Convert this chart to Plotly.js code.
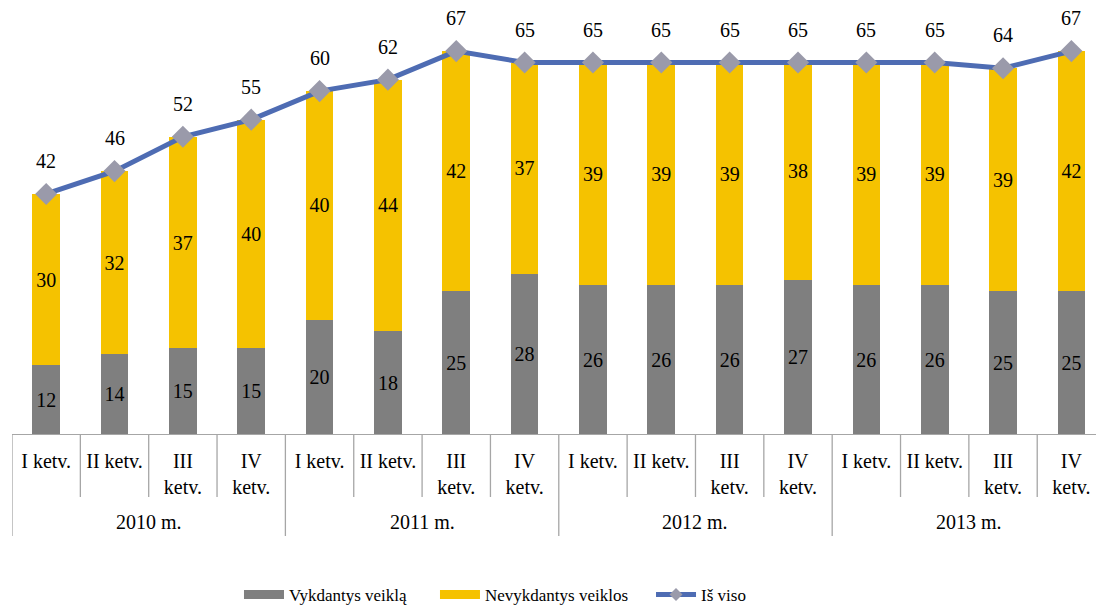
<!DOCTYPE html>
<html>
<head>
<meta charset="utf-8">
<script src="https://cdn.plot.ly/plotly-3.0.1.min.js"></script>
<style>html,body{margin:0;padding:0;background:#fff;}#chart{width:1096px;height:606px;}</style>
</head>
<body>
<div id="chart"></div>
<script>
const years = ["2010 m.", "2011 m.", "2012 m.", "2013 m."];
const quarters = ["I ketv.", "II ketv.", "III<br>ketv.", "IV<br>ketv."];
const active = [12, 14, 15, 15, 20, 18, 25, 28, 26, 26, 26, 27, 26, 26, 25, 25];
const inactive = [30, 32, 37, 40, 40, 44, 42, 37, 39, 39, 39, 38, 39, 39, 39, 42];
const total = [42, 46, 52, 55, 60, 62, 67, 65, 65, 65, 65, 65, 65, 65, 64, 67];
const seriesNames = ["Vykdantys veiklą", "Nevykdantys veiklos", "Iš viso"];

const FONT = "'Liberation Serif', 'Times New Roman', serif";
const GREY = '#7f7f7f', YELLOW = '#f5c200', BLUE = '#4e6cb3';
const idx = active.map((_, i) => i);
const tickText = [];
years.forEach(() => quarters.forEach(q => tickText.push(q)));

const traces = [
  {
    type: 'bar', x: idx, y: active, name: seriesNames[0], showlegend: false,
    marker: {color: GREY}, width: 0.405,
    text: active.map(String), textposition: 'inside', insidetextanchor: 'middle',
    constraintext: 'none', textfont: {family: FONT, size: 20, color: '#000'},
    hoverinfo: 'skip'
  },
  {
    type: 'bar', x: idx, y: inactive, name: seriesNames[1], showlegend: false,
    marker: {color: YELLOW}, width: 0.405,
    text: inactive.map(String), textposition: 'inside', insidetextanchor: 'middle',
    constraintext: 'none', textfont: {family: FONT, size: 20, color: '#000'},
    hoverinfo: 'skip'
  },
  {
    type: 'scatter', mode: 'lines+markers', x: idx, y: total, name: seriesNames[2], showlegend: false,
    line: {color: BLUE, width: 5},
    marker: {symbol: 'diamond', size: 17, color: '#9a9aaa'},
    hoverinfo: 'skip', cliponaxis: false
  },
  // legend entries
  {type: 'scatter', mode: 'lines', x: [null], y: [null], name: seriesNames[0], legend: 'legend',
   line: {color: GREY, width: 9}, hoverinfo: 'skip'},
  {type: 'scatter', mode: 'lines', x: [null], y: [null], name: seriesNames[1], legend: 'legend2',
   line: {color: YELLOW, width: 9}, hoverinfo: 'skip'},
  {type: 'scatter', mode: 'lines+markers', x: [null], y: [null], name: seriesNames[2], legend: 'legend3',
   line: {color: BLUE, width: 5}, marker: {symbol: 'diamond', size: 10, color: '#9a9aaa'}, hoverinfo: 'skip'}
];

const PLOT_H = 424;
const annotations = total.map((v, i) => ({
  x: i, y: v, xref: 'x', yref: 'y', text: String(v), showarrow: false,
  yshift: 33, font: {family: FONT, size: 20, color: '#000'}
}));
years.forEach((yr, g) => {
  annotations.push({
    x: g * quarters.length + (quarters.length - 1) / 2, y: -88 / PLOT_H, xref: 'x', yref: 'paper',
    yanchor: 'middle', text: yr, showarrow: false, font: {family: FONT, size: 20, color: '#000'}
  });
});

const shapes = [];
for (let i = 0; i < active.length; i++) {
  const isYear = i % quarters.length === 0;
  shapes.push({
    type: 'line', xref: 'x', yref: 'paper', x0: i - 0.5, x1: i - 0.5,
    y0: 0, y1: isYear ? -102 / PLOT_H : -63 / PLOT_H,
    line: {color: '#a6a6a6', width: 1.3}
  });
}

const legendBase = {
  orientation: 'h', xanchor: 'left', y: -161 / PLOT_H, yanchor: 'middle',
  itemwidth: 40, bgcolor: 'rgba(0,0,0,0)',
  font: {family: FONT, size: 17, color: '#000'}
};

const layout = {
  width: 1096, height: 606,
  margin: {l: 12, r: 0, t: 10, b: 172, autoexpand: false},
  paper_bgcolor: '#fff', plot_bgcolor: '#fff',
  barmode: 'stack', showlegend: true,
  font: {family: FONT, size: 20, color: '#000'},
  xaxis: {
    range: [-0.5, 15.36], tickvals: idx, ticktext: tickText, automargin: false,
    showgrid: false, zeroline: false, showline: true, linecolor: '#a6a6a6', linewidth: 1.3,
    ticks: '', ticklabelstandoff: 9, tickfont: {family: FONT, size: 20, color: '#000'}, fixedrange: true
  },
  yaxis: {
    range: [0, 74.19], visible: false, showgrid: false, zeroline: false, fixedrange: true
  },
  legend: Object.assign({}, legendBase, {x: 0.2094}),
  legend2: Object.assign({}, legendBase, {x: 0.3902}),
  legend3: Object.assign({}, legendBase, {x: 0.5895}),
  annotations: annotations,
  shapes: shapes
};

Plotly.newPlot('chart', traces, layout, {displayModeBar: false, staticPlot: true});
</script>
</body>
</html>
